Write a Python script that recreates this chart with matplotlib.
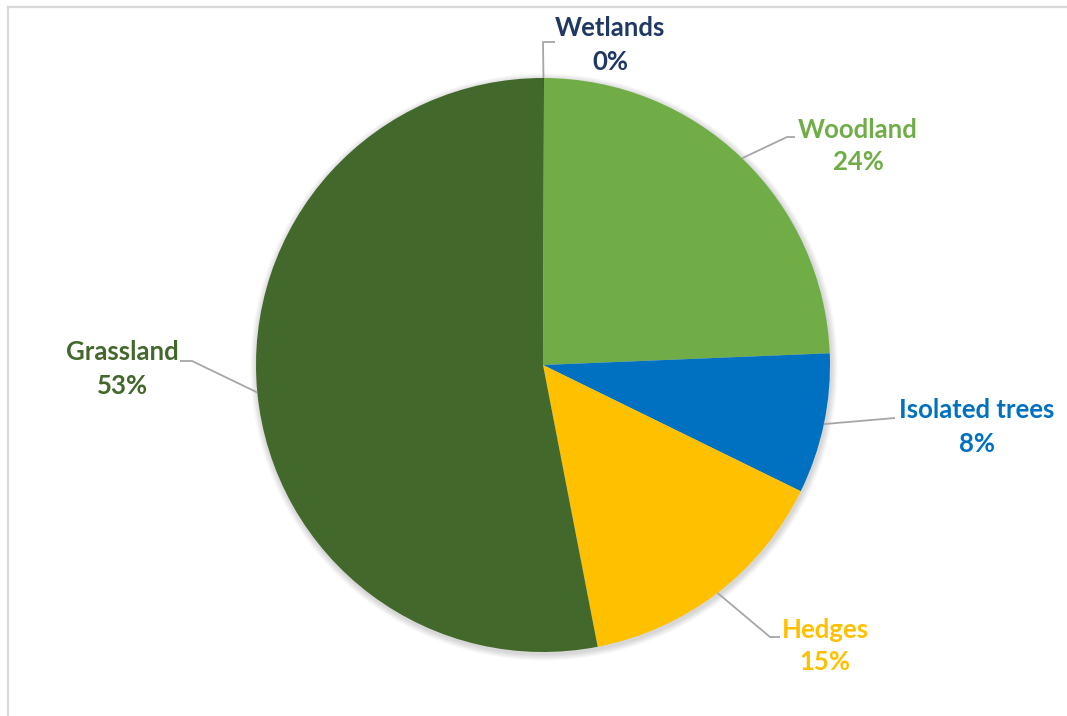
import numpy as np
import matplotlib.pyplot as plt
from matplotlib.lines import Line2D

# Land cover shares (percent), clockwise from 12 o'clock
categories = ["Wetlands", "Woodland", "Isolated trees", "Hedges", "Grassland"]
shares = [0.05, 24.3, 7.9, 14.7, 53.05]
slice_colors = ["#203864", "#70AD47", "#0070C0", "#FFC000", "#43682B"]
label_colors = ["#203864", "#70AD47", "#0070C0", "#FFC000", "#43682B"]

W, H = 1067, 716
fig = plt.figure(figsize=(W / 100, H / 100), dpi=100)
ax = fig.add_axes([0, 0, 1, 1])

cx, cy, r = 543, H - 365, 287

# soft drop shadow under the pie
for k in range(8):
    circ = plt.Circle((cx + 1, cy - 2), r + 1 + k * 0.8, color="black",
                      alpha=0.018, lw=0, zorder=0)
    ax.add_patch(circ)

wedges, _ = ax.pie(shares, colors=slice_colors, startangle=90,
                   counterclock=False, radius=r, center=(cx, cy),
                   wedgeprops=dict(linewidth=0, antialiased=True),
                   frame=True)
ax.set_xlim(0, W)
ax.set_ylim(0, H)
ax.set_aspect("equal")
ax.axis("off")

# label text centres and leader elbow points (pixel layout, y from top)
label_pos = [(610, 45), (858, 146), (977, 427), (825, 646), (122, 369)]
elbows = [[(543, 42), (555, 42)],
          [(787, 137), (795, 137)],
          [(895, 418)],
          [(770, 637), (780, 637)],
          [(192, 361), (180, 361)]]

font = dict(family="Lato", weight="bold", size=18.5)
for w, name, val, col, (lx, ly), elb in zip(wedges, categories, shares,
                                             label_colors, label_pos, elbows):
    mid = np.deg2rad((w.theta1 + w.theta2) / 2)
    ax_pt = (cx + r * np.cos(mid), cy + r * np.sin(mid))
    xs = [ax_pt[0]] + [e[0] for e in elb]
    ys = [ax_pt[1]] + [H - e[1] for e in elb]
    ax.plot(xs, ys, color="#A6A6A6", lw=1.3, solid_capstyle="butt", zorder=3)
    ax.text(lx, H - ly, f"{name}\n{val:.0f}%", color=col, ha="center",
            va="center", linespacing=1.45, **font)

# chart area border (top and left edges visible)
fig.add_artist(Line2D([7.5 / W, 1], [1 - 6.5 / H, 1 - 6.5 / H],
                      transform=fig.transFigure, color="#D9D9D9", lw=1.6))
fig.add_artist(Line2D([7.5 / W, 7.5 / W], [0, 1 - 6.5 / H],
                      transform=fig.transFigure, color="#D9D9D9", lw=1.6))

fig.savefig("out.png", dpi=100, facecolor="white")
